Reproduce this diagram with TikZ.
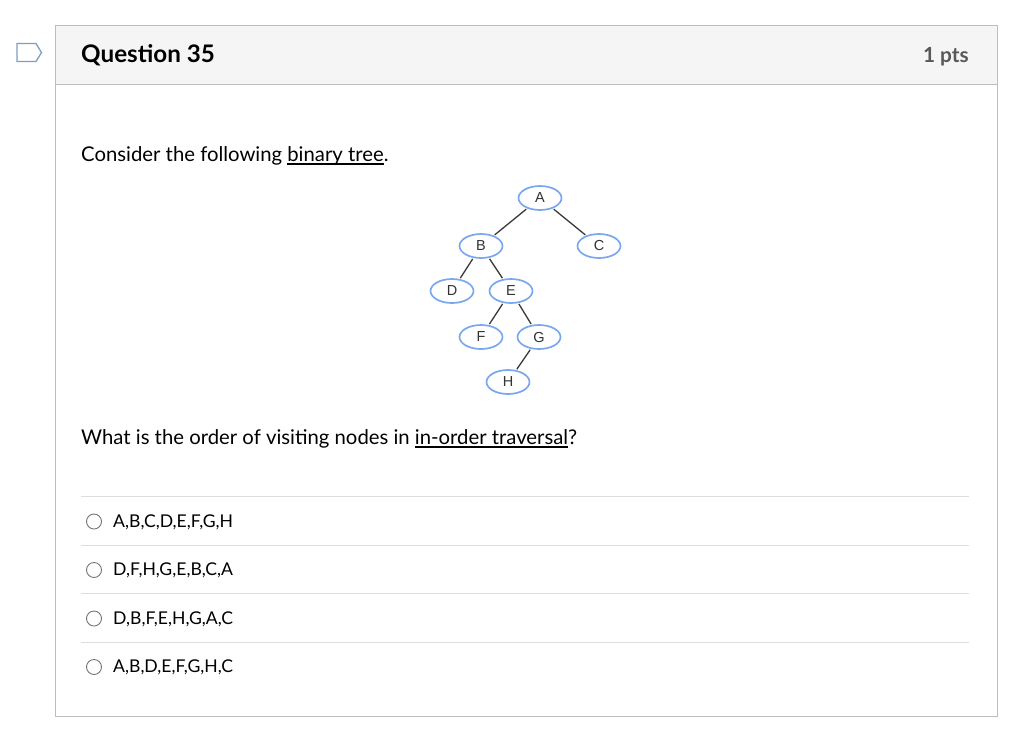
\documentclass[tikz,border=0pt]{standalone}
\usepackage{fontspec}
\setmainfont{Lato}
\newfontfamily\arialf{Liberation Sans}
\usetikzlibrary{shapes.geometric}
\definecolor{hdrbg}{HTML}{F5F5F5}
\definecolor{boxline}{HTML}{BDBDBD}
\definecolor{sepline}{HTML}{DDDDDD}
\definecolor{flagc}{HTML}{7E9FC3}
\definecolor{ellc}{HTML}{7AA7F0}
\definecolor{edgec}{HTML}{3A3A3A}
\newcommand\myul[1]{\setbox0\hbox{#1}\rlap{\raisebox{-3.6pt}{\rule{\wd0}{1.3pt}}}\box0}
\tikzset{
  tnode/.style={ellipse, draw=ellc, line width=1.7pt, minimum width=43pt, minimum height=24pt, inner sep=0pt, font=\arialf\fontsize{14.5}{16}\selectfont, text=black!80},
  tedge/.style={draw=edgec, line width=1.3pt, shorten <=1pt, shorten >=1pt},
  body/.style={anchor=base west, inner sep=0pt, font=\fontsize{20.3}{24}\selectfont, text=black},
  opt/.style={anchor=base west, inner sep=0pt, font=\fontsize{17.6}{21}\selectfont, text=black},
  radio/.style={circle, draw=black!55, line width=0.9pt, minimum size=15pt, inner sep=0pt},
  sep/.style={draw=sepline, line width=1pt}
}
\begin{document}
\begin{tikzpicture}[x=1pt,y=-1pt]
\useasboundingbox[fill=white] (0,0) rectangle (1024,729);
% flag
\draw[flagc, line width=1.3pt, line join=miter] (17,43.5) -- (36,43.5) -- (41.5,52.5) -- (36,61.5) -- (17,61.5) -- cycle;
% outer box
\fill[hdrbg] (55,25) rectangle (997,84);
\draw[boxline, line width=1pt] (55,25) rectangle (997,716);
\draw[boxline, line width=1pt] (55,84) -- (997,84);
\node[anchor=base west, inner sep=0pt, font=\bfseries\fontsize{24.2}{28}\selectfont, text=black] (title) at (81,62.5) {Question 35};
\node[anchor=base east, inner sep=0pt, font=\bfseries\fontsize{20.8}{24}\selectfont, text=black!65] (pts) at (969,62.5) {1 pts};
% text
\node[body] (consider) at (81,161) {Consider the following \myul{binary tree}.};
\node[body] (question) at (81,444) {What is the order of visiting nodes in \myul{in-order traversal}?};
% tree
\node[tnode] (A) at (540,198) {A};
\node[tnode] (B) at (481,246) {B};
\node[tnode] (C) at (599,246) {C};
\node[tnode] (D) at (452,291) {D};
\node[tnode] (E) at (511,291) {E};
\node[tnode] (F) at (481,337) {F};
\node[tnode] (G) at (539,337) {G};
\node[tnode] (H) at (508,382) {H};
\draw[tedge] (A) -- (B);
\draw[tedge] (A) -- (C);
\draw[tedge] (B) -- (D);
\draw[tedge] (B) -- (E);
\draw[tedge] (E) -- (F);
\draw[tedge] (E) -- (G);
\draw[tedge] (G) -- (H);
% options
\coordinate (s1l) at (81,496); \coordinate (s1r) at (969,496);
\coordinate (s2l) at (81,545); \coordinate (s2r) at (969,545);
\coordinate (s3l) at (81,593.5); \coordinate (s3r) at (969,593.5);
\coordinate (s4l) at (81,642); \coordinate (s4r) at (969,642);
\draw[sep] (s1l) -- (s1r);
\draw[sep] (s2l) -- (s2r);
\draw[sep] (s3l) -- (s3r);
\draw[sep] (s4l) -- (s4r);
\node[radio] (r1) at (94,521.5) {};
\node[radio] (r2) at (94,570) {};
\node[radio] (r3) at (94,618.5) {};
\node[radio] (r4) at (94,667) {};
\node[opt] (o1) at (113,527) {A,B,C,D,E,F,G,H};
\node[opt] (o2) at (113,575.5) {D,F,H,G,E,B,C,A};
\node[opt] (o3) at (113,624) {D,B,F,E,H,G,A,C};
\node[opt] (o4) at (113,672.5) {A,B,D,E,F,G,H,C};
\end{tikzpicture}
\end{document}
